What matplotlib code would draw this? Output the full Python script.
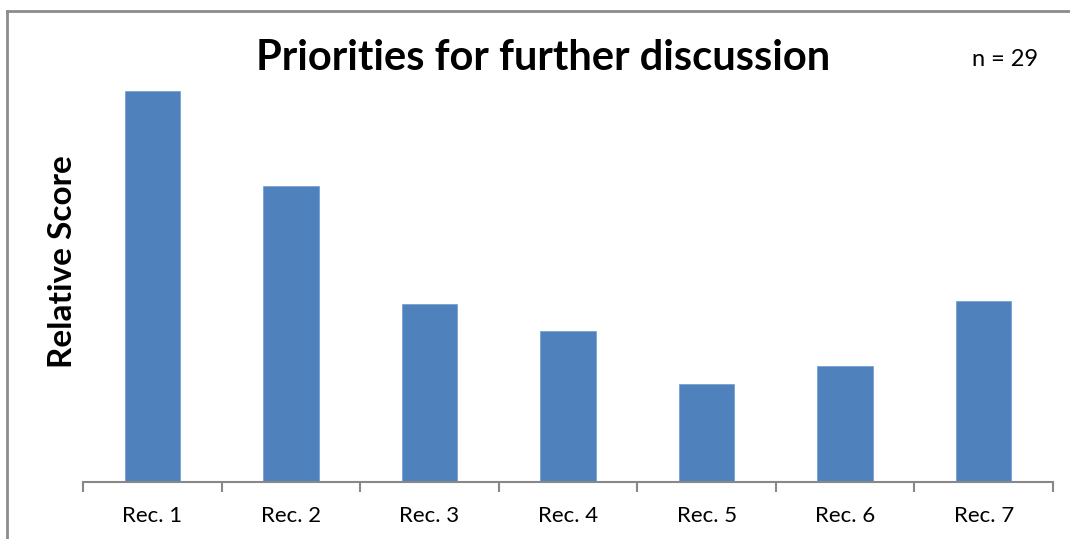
import matplotlib
matplotlib.use("Agg")
import matplotlib.pyplot as plt
from matplotlib.lines import Line2D

categories = ["Rec. 1", "Rec. 2", "Rec. 3", "Rec. 4", "Rec. 5", "Rec. 6", "Rec. 7"]
scores = [391, 296, 178, 151, 98, 116, 181]

W, H = 1070, 539
fig = plt.figure(figsize=(W / 100, H / 100), dpi=100)
plt.rcParams['font.family'] = ['Lato', 'DejaVu Sans']

# outer frame (left and top edges visible)
fx, fy = 6.5 / W, 1 - 10.5 / H
fig.lines.append(Line2D([fx, fx], [0, fy], transform=fig.transFigure,
                        color='#8c8c8c', linewidth=2))
fig.lines.append(Line2D([fx, 1], [fy, fy], transform=fig.transFigure,
                        color='#8c8c8c', linewidth=2))

left, right = 83 / W, 1053 / W
bottom = 1 - 482 / H
top = 1 - 91 / H
ax = fig.add_axes([left, bottom, right - left, top - bottom])
x = range(len(categories))
ax.bar(x, scores, width=0.40, color='#4F81BD', edgecolor='#6f9bd0', linewidth=0.5)
ax.set_xlim(-0.5, len(categories) - 0.5)
ax.set_ylim(0, 391)
for s in ['top', 'right', 'left']:
    ax.spines[s].set_visible(False)
ax.spines['bottom'].set_color('#888888')
ax.spines['bottom'].set_linewidth(1.5)
ax.set_yticks([])
ax.set_xticks([i - 0.5 for i in range(len(categories) + 1)], minor=False)
ax.set_xticklabels([])
ax.tick_params(axis='x', which='major', length=7, width=1.5, color='#888888')
ax.set_xticks(list(x), minor=True)
ax.set_xticklabels(categories, minor=True)
ax.tick_params(axis='x', which='minor', length=0, pad=17, labelsize=16)

fig.text(543 / W, 1 - 58 / H, "Priorities for further discussion", ha='center', va='center',
         fontsize=30, fontweight='bold')
fig.text(62 / W, 1 - 262 / H, "Relative Score", ha='center', va='center', rotation=90,
         fontsize=24, fontweight='bold')
fig.text(1005 / W, 1 - 60 / H, "n = 29", ha='center', va='center', fontsize=17)

fig.savefig("out.png", dpi=100)
